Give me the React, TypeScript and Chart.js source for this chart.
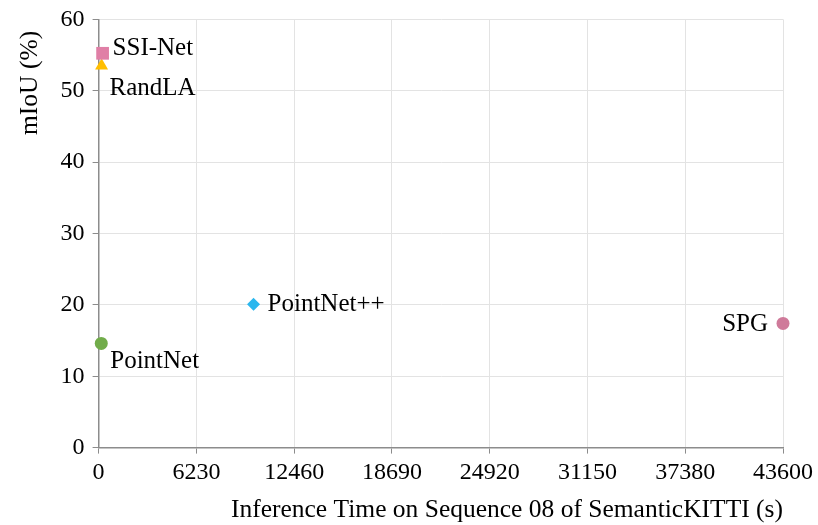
import { useEffect, useRef } from "react";
import { Chart, registerables } from "chart.js";

Chart.register(...registerables);

// ---- data ----
const models = ["SSI-Net", "RandLA", "PointNet++", "PointNet", "SPG"];
const inferenceTime = [255, 190, 9870, 170, 43600];
const mIoU = [55.25, 53.5, 20.1, 14.6, 17.4];
const xTickValues = [0, 6230, 12460, 18690, 24920, 31150, 37380, 43600];
const yTickValues = [0, 10, 20, 30, 40, 50, 60];
const xTitle = "Inference Time on Sequence 08 of SemanticKITTI (s)";
const yTitle = "mIoU (%)\u00A0\u2009";

// ---- styles ----
const colors = ["#E07FA6", "#FFBE00", "#2BB7EE", "#71AC4A", "#CF7A9A"];
const pointStyles = ["rect", "triangle", "rectRot", "circle", "circle"];
const pointRadii = [9, 7.5, 6.5, 6.5, 6.5];
// label offset relative to point (dx, dy) and alignment
const labelOffsets: [number, number, CanvasTextAlign][] = [
  [10, -5, "left"],
  [8, 23, "left"],
  [14, 0, "left"],
  [9, 18, "left"],
  [-15, 1, "right"],
];
const FONT = '"Liberation Serif", "Times New Roman", serif';

const labelPlugin = {
  id: "pointLabels",
  afterDatasetsDraw(chart: any) {
    const ctx = chart.ctx;
    ctx.save();
    ctx.font = `25px ${FONT}`;
    ctx.fillStyle = "#000";
    ctx.textBaseline = "middle";
    chart.data.datasets.forEach((ds: any, i: number) => {
      const meta = chart.getDatasetMeta(i);
      const el = meta.data[0];
      if (!el) return;
      const [dx, dy, align] = labelOffsets[i];
      ctx.textAlign = align;
      ctx.fillText(ds.label, el.x + dx, el.y + dy);
    });
    ctx.restore();
  },
};

export default function App() {
  const ref = useRef<HTMLCanvasElement>(null);
  useEffect(() => {
    document.body.style.margin = "0";
    document.body.style.overflow = "hidden";
    const canvas = ref.current!;
    const chart = new Chart(canvas, {
      type: "scatter",
      data: {
        datasets: models.map((m, i) => ({
          label: m,
          data: [{ x: inferenceTime[i], y: mIoU[i] }],
          backgroundColor: colors[i],
          borderColor: colors[i],
          borderWidth: 0,
          pointStyle: pointStyles[i] as any,
          pointRadius: pointRadii[i],
          pointHoverRadius: pointRadii[i],
          clip: false as any,
        })),
      },
      options: {
        animation: false,
        responsive: false,
        layout: { padding: { left: 15, right: 35, top: 16, bottom: 3 } },
        plugins: {
          legend: { display: false },
          tooltip: { enabled: false },
        },
        scales: {
          x: {
            type: "linear",
            min: 0,
            max: 43600,
            afterBuildTicks: (axis: any) => {
              axis.ticks = xTickValues.map((v) => ({ value: v }));
            },
            ticks: {
              autoSkip: false,
              maxRotation: 0,
              color: "#000",
              font: { family: FONT, size: 24 },
              padding: 5,
              callback: (v: any) => String(v),
            },
            grid: {
              color: "#E3E3E3",
              tickColor: "#8C8C8C",
              tickLength: 6,
              lineWidth: 1,
            },
            border: { color: "#8C8C8C", width: 1.5 },
            title: {
              display: true,
              text: xTitle,
              align: "end",
              color: "#000",
              font: { family: FONT, size: 25.5 },
              padding: { top: 3, bottom: 0 },
            },
          },
          y: {
            type: "linear",
            min: 0,
            max: 60,
            afterBuildTicks: (axis: any) => {
              axis.ticks = yTickValues.map((v) => ({ value: v }));
            },
            ticks: {
              color: "#000",
              font: { family: FONT, size: 24 },
              padding: 8,
            },
            grid: {
              color: "#E3E3E3",
              tickColor: "#8C8C8C",
              tickLength: 6,
              lineWidth: 1,
            },
            border: { color: "#8C8C8C", width: 1.5 },
            title: {
              display: true,
              text: yTitle,
              align: "end",
              color: "#000",
              font: { family: FONT, size: 25.5 },
              padding: { top: 0, bottom: 7 },
            },
          },
        },
      },
      plugins: [labelPlugin],
    });
    return () => chart.destroy();
  }, []);
  return (
    <div style={{ width: 818, height: 525, overflow: "hidden", position: "relative" }}>
      <canvas
        ref={ref}
        width={818}
        height={532}
        style={{ display: "block", position: "absolute", left: 0, top: -3 }}
      />
    </div>
  );
}
